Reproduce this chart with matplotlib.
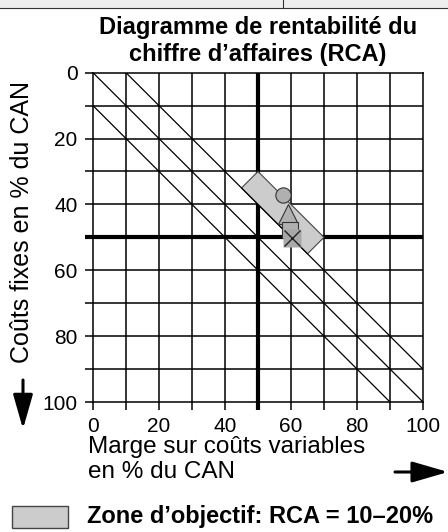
import matplotlib
matplotlib.use('Agg')
import matplotlib.pyplot as plt
from matplotlib.patches import Polygon, Rectangle

plt.rcParams['font.family'] = ['Liberation Sans', 'DejaVu Sans']

# lignes de rentabilite (RCA = marge - couts fixes)
rca_lines = [-10, 0, 10]
# zone d'objectif : RCA entre 10 et 20 %, marge + couts fixes entre 80 et 120
rca_zone = (10, 20)
sum_zone = (80, 120)
# evolution de l'entreprise (marge %, couts fixes %)
marge = [57.5, 59, 59.7, 60.3]
couts_fixes = [37, 43, 47.7, 50.2]
ticks = [0, 20, 40, 60, 80, 100]

W, H = 448, 532
fig = plt.figure(figsize=(W / 100, H / 100), dpi=100)
ax = fig.add_axes([93 / W, 1 - 402 / H, 330 / W, 329.3 / H])
ax.set_xlim(0, 100)
ax.set_ylim(100, 0)

# grille
for v in range(10, 100, 10):
    lw = 3 if v == 50 else 1.1
    ax.axvline(v, color='k', lw=lw, zorder=1)
    ax.axhline(v, color='k', lw=lw, zorder=1)
for s in ax.spines.values():
    s.set_linewidth(1.1)

ax.set_xticks(range(0, 101, 10))
ax.set_yticks(range(0, 101, 10))
ax.set_xticklabels([str(t) if t in ticks else '' for t in range(0, 101, 10)])
ax.set_yticklabels([str(t) if t in ticks else '' for t in range(0, 101, 10)])
ax.tick_params(axis='x', length=6, width=1.1, pad=5, labelsize=15)
ax.tick_params(axis='y', length=6, width=1.1, pad=5, labelsize=15)
ax.get_xticklines()[10].set_markeredgewidth(3)
ax.get_yticklines()[10].set_markeredgewidth(3)

# zone d'objectif
lo, hi = rca_zone
s0, s1 = sum_zone
corners = [((s0 + lo) / 2, (s0 - lo) / 2), ((s0 + hi) / 2, (s0 - hi) / 2),
           ((s1 + hi) / 2, (s1 - hi) / 2), ((s1 + lo) / 2, (s1 - lo) / 2)]
ax.add_patch(Polygon(corners, closed=True, facecolor='#cccccc',
                     edgecolor='#444444', lw=0.8, zorder=2))

# diagonales
for r in rca_lines:
    ax.plot([0, 100], [0 - r, 100 - r], color='k', lw=0.9, zorder=3)

# points
ax.plot(marge[1], couts_fixes[1], marker='^', ms=14, mfc='#b0b0b0',
        mec='#333333', mew=0.8, zorder=4)
ax.plot(marge[2], couts_fixes[2], marker='s', ms=12, mfc='#b0b0b0',
        mec='#333333', mew=0.8, zorder=5)
ax.plot(marge[3], couts_fixes[3], marker='s', ms=13, mfc='#a8a8a8',
        mec='none', zorder=6)
ax.plot(marge[3], couts_fixes[3], marker='x', ms=12, color='#222222',
        mew=1, zorder=7)
ax.plot(marge[0], couts_fixes[0], marker='o', ms=11, mfc='#b0b0b0',
        mec='#333333', mew=0.8, zorder=8)

# titre
fig.text(258 / W, 1 - 34 / H, 'Diagramme de rentabilité du', ha='center',
         va='baseline', fontsize=17, fontweight='bold')
fig.text(258 / W, 1 - 61 / H, 'chiffre d\u2019affaires (RCA)', ha='center',
         va='baseline', fontsize=17, fontweight='bold')

# axes titres
fig.text(88 / W, 1 - 453 / H, 'Marge sur coûts variables', ha='left',
         va='baseline', fontsize=17.5)
fig.text(88 / W, 1 - 478 / H, 'en % du CAN', ha='left', va='baseline',
         fontsize=17.5)
fig.text(22 / W, 1 - 222 / H, 'Coûts fixes en % du CAN', rotation=90,
         ha='center', va='center', fontsize=18)
ax.annotate('', xy=(448, H - 472), xytext=(395, H - 472),
            xycoords='figure pixels', textcoords='figure pixels',
            arrowprops=dict(arrowstyle='-|>,head_length=1.1,head_width=0.32',
                            lw=2.2, color='k', mutation_scale=20,
                            shrinkA=0, shrinkB=0))
ax.annotate('', xy=(23, H - 429), xytext=(23, H - 380),
            xycoords='figure pixels', textcoords='figure pixels',
            arrowprops=dict(arrowstyle='-|>,head_length=1.05,head_width=0.3',
                            lw=2.2, color='k', mutation_scale=20,
                            shrinkA=0, shrinkB=0))

# legende
fig.add_artist(Rectangle((12 / W, 1 - 528 / H), 56 / W, 22 / H,
                         transform=fig.transFigure, facecolor='#cccccc',
                         edgecolor='#444444', lw=1))
fig.text(87 / W, 1 - 523 / H, 'Zone d\u2019objectif: RCA = 10\u201320%',
         ha='left', va='baseline', fontsize=17, fontweight='bold')

# bandeau en haut
fig.add_artist(Rectangle((0, 1 - 7.5 / H), 1, 7.5 / H,
                         transform=fig.transFigure, facecolor='#eeeeee',
                         edgecolor='none'))
fig.add_artist(plt.Line2D([0, 1], [1 - 7.5 / H] * 2, color='#333333',
                          lw=0.8, transform=fig.transFigure))
fig.add_artist(plt.Line2D([283 / W] * 2, [1, 1 - 7.5 / H], color='#333333',
                          lw=0.8, transform=fig.transFigure))

fig.savefig('out.png', dpi=100)
